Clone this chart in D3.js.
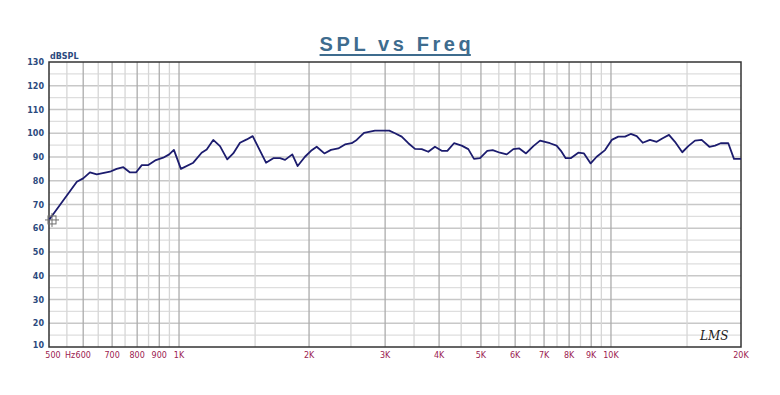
<!DOCTYPE html>
<html>
<head>
<meta charset="utf-8">
<script src="https://cdn.jsdelivr.net/npm/d3@7"></script>
<style>
  body { margin: 0; background: #fff; }
  svg { display: block; }
</style>
</head>
<body>
<div id="chart"></div>
<script>
// SPL response (Hz, dB)
const freqs = [500, 580, 600, 622, 645, 692, 717, 743, 770, 795, 820, 849, 884, 919, 949, 973,
  1010, 1079, 1128, 1159, 1200, 1244, 1293, 1335, 1384, 1435, 1481, 1590, 1653, 1713, 1760, 1829,
  1882, 1957, 2021, 2083, 2170, 2248, 2337, 2422, 2510, 2578, 2681, 2842, 3067, 3162, 3277, 3395,
  3518, 3646, 3777, 3913, 4056, 4180, 4331, 4512, 4674, 4818, 4975, 5171, 5323, 5534, 5736, 5942,
  6136, 6358, 6612, 6852, 7223, 7483, 7659, 7856, 8068, 8400, 8660, 8974, 9266, 9689, 10041, 10400,
  10777, 11110, 11472, 11845, 12312, 12762, 13173, 13624, 14066, 14624, 15101, 15651, 16217, 16897,
  17416, 17946, 18690, 19264, 20000];
const spl = [63.5, 79.6, 81, 83.5, 82.7, 83.8, 85, 85.7, 83.5, 83.5, 86.6, 86.6, 88.7, 89.7, 91.1, 93,
  85, 87.6, 91.8, 93.2, 97.2, 94.6, 89, 91.5, 96, 97.4, 98.8, 87.6, 89.5, 89.5, 88.8, 91.1,
  86.2, 90.1, 92.6, 94.3, 91.5, 93, 93.6, 95.3, 95.8, 97.2, 100.2, 101.1, 101.1, 100, 98.6, 95.8,
  93.4, 93.3, 92.2, 94.3, 92.6, 92.6, 95.8, 94.8, 93.3, 89.2, 89.5, 92.6, 92.9, 91.8, 91.1, 93.3,
  93.6, 91.5, 94.6, 96.9, 95.8, 94.8, 92.6, 89.5, 89.5, 91.8, 91.5, 87.3, 90.1, 92.9, 97.2, 98.6,
  98.6, 99.7, 98.8, 96, 97.2, 96.4, 97.9, 99.3, 96.4, 92, 94.6, 96.9, 97.2, 94.3,
  94.8, 95.8, 95.8, 89.2, 89.2];

const majorFreqs = [500, 600, 700, 800, 900, 1000, 2000, 3000, 4000, 5000, 6000, 7000, 8000, 9000, 10000, 20000];
const minorFreqs = [550, 650, 750, 850, 950, 1500, 2500, 3500, 4500, 5500, 6500, 7500, 8500, 9500, 15000];
const freqLabels = ['500', '600', '700', '800', '900', '1K', '2K', '3K', '4K', '5K', '6K', '7K', '8K', '9K', '10K', '20K'];
const dbTicks = [10, 20, 30, 40, 50, 60, 70, 80, 90, 100, 110, 120, 130];

const W = 780, H = 395;
const plotL = 49, plotR = 741, plotT = 62, plotB = 347;

const svg = d3.select('#chart').append('svg')
  .attr('width', W)
  .attr('height', H);

const x = d3.scaleLog().domain([500, 20000]).range([plotL, plotR]);
const y = d3.scaleLinear().domain([10, 130]).range([plotB, plotT]);

// horizontal grid, every 5 dB
const hLines = d3.range(15, 130, 5);
svg.append('g').selectAll('line')
  .data(hLines)
  .join('line')
  .attr('x1', plotL).attr('x2', plotR)
  .attr('y1', d => y(d)).attr('y2', d => y(d))
  .attr('stroke', d => d % 10 === 0 ? '#c8c8c8' : '#dedede')
  .attr('stroke-width', 1.3);

// vertical grid
svg.append('g').selectAll('line')
  .data(minorFreqs)
  .join('line')
  .attr('x1', d => x(d)).attr('x2', d => x(d))
  .attr('y1', plotT).attr('y2', plotB)
  .attr('stroke', '#d6d6d6')
  .attr('stroke-width', 1.3);

svg.append('g').selectAll('line')
  .data(majorFreqs.slice(1, -1))
  .join('line')
  .attr('x1', d => x(d)).attr('x2', d => x(d))
  .attr('y1', plotT).attr('y2', plotB)
  .attr('stroke', '#acacac')
  .attr('stroke-width', 1.3);

// frame
svg.append('rect')
  .attr('x', plotL).attr('y', plotT)
  .attr('width', plotR - plotL).attr('height', plotB - plotT)
  .attr('fill', 'none')
  .attr('stroke', '#333')
  .attr('stroke-width', 1.5);

// y tick labels
svg.append('g').selectAll('text')
  .data(dbTicks)
  .join('text')
  .attr('x', plotL - 5)
  .attr('y', d => y(d) + (d === 10 ? 1 : 3))
  .attr('text-anchor', 'end')
  .attr('font-family', 'DejaVu Sans, sans-serif')
  .attr('font-size', 8)
  .attr('font-weight', 'bold')
  .attr('fill', '#2b4a7e')
  .text(d => d);

svg.append('text')
  .attr('x', 50).attr('y', 59)
  .attr('font-family', 'DejaVu Sans, sans-serif')
  .attr('font-size', 8)
  .attr('font-weight', 'bold')
  .attr('fill', '#2b4a7e')
  .text('dBSPL');

// x tick labels
svg.append('g').selectAll('text')
  .data(majorFreqs)
  .join('text')
  .attr('x', d => x(d) + (d === 500 ? 4 : 0))
  .attr('y', 358)
  .attr('text-anchor', 'middle')
  .attr('font-family', 'DejaVu Sans, sans-serif')
  .attr('font-size', 8)
  .attr('fill', '#9b2150')
  .text((d, i) => freqLabels[i]);

svg.append('text')
  .attr('x', 70).attr('y', 358)
  .attr('text-anchor', 'middle')
  .attr('font-family', 'DejaVu Sans, sans-serif')
  .attr('font-size', 8)
  .attr('fill', '#9b2150')
  .text('Hz');

// title with a thick underline
const title = svg.append('text')
  .attr('x', 397).attr('y', 51)
  .attr('text-anchor', 'middle')
  .attr('font-family', 'Liberation Sans, Arial, sans-serif')
  .attr('font-size', 20)
  .attr('font-weight', 'bold')
  .attr('letter-spacing', 3.6)
  .attr('fill', '#3e6c8e')
  .text('SPL vs Freq');
const tb = title.node().getBBox();
svg.append('line')
  .attr('x1', tb.x).attr('x2', tb.x + tb.width - 3.6)
  .attr('y1', 55).attr('y2', 55)
  .attr('stroke', '#3e6c8e')
  .attr('stroke-width', 2);

// curve
const pts = freqs.map((f, i) => [f, spl[i]]);
const line = d3.line()
  .x(d => x(d[0]))
  .y(d => y(d[1]));

svg.append('path')
  .datum(pts)
  .attr('d', line)
  .attr('fill', 'none')
  .attr('stroke', '#1c1c6e')
  .attr('stroke-width', 1.8)
  .attr('stroke-linejoin', 'round');

// cursor marker at start of curve
const mx = x(freqs[0]) + 3, my = y(spl[0]);
const marker = svg.append('g').attr('stroke', '#6f6f6f').attr('fill', 'none').attr('stroke-width', 1);
marker.append('rect').attr('x', mx - 4).attr('y', my - 4).attr('width', 8).attr('height', 8);
marker.append('line').attr('x1', mx - 7).attr('x2', mx + 7).attr('y1', my).attr('y2', my);
marker.append('line').attr('x1', mx).attr('x2', mx).attr('y1', my - 7).attr('y2', my + 7);

// LMS logo
svg.append('text')
  .attr('x', 700).attr('y', 340)
  .attr('font-family', 'DejaVu Serif, serif')
  .attr('font-style', 'italic')
  .attr('font-size', 12)
  .attr('fill', '#222')
  .text('LMS');
</script>
</body>
</html>
